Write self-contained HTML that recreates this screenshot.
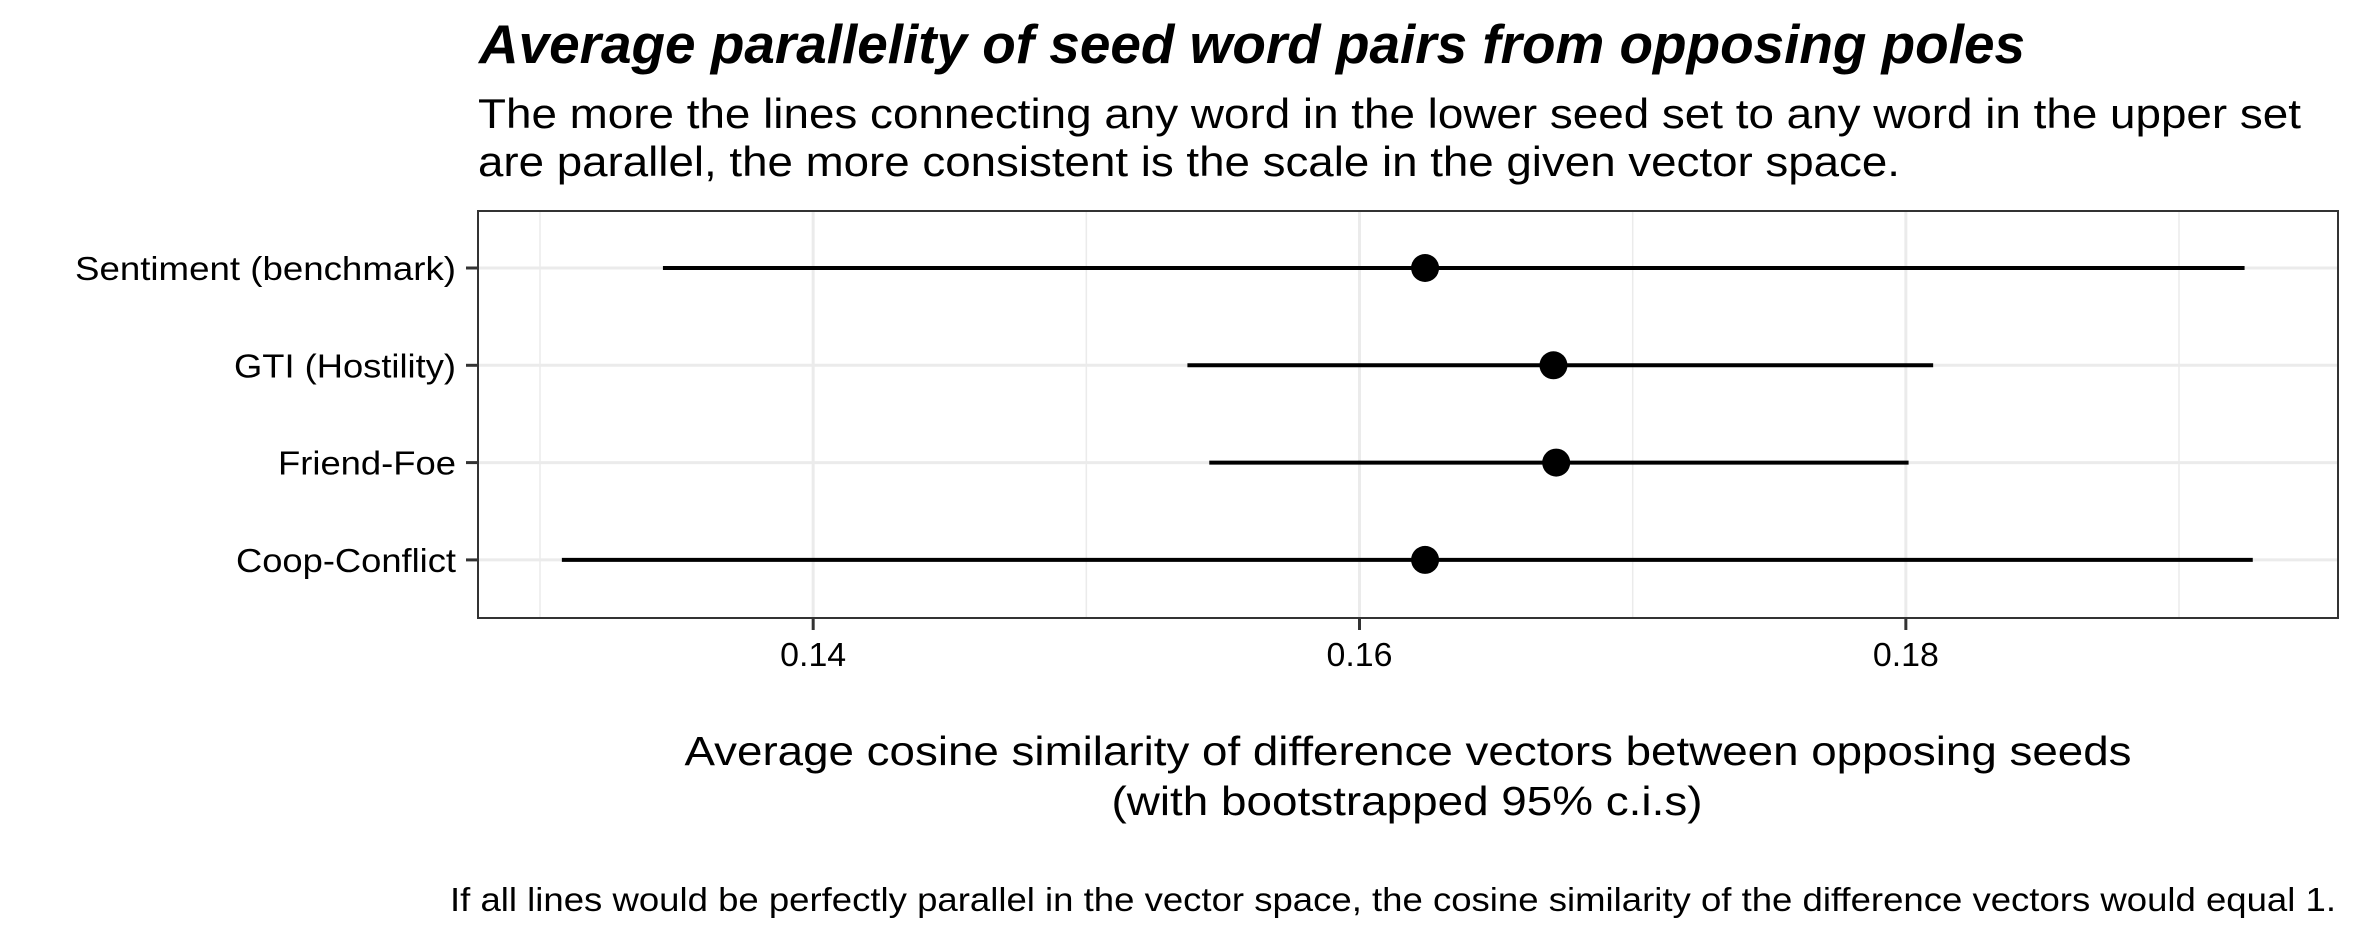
<!DOCTYPE html>
<html><head><meta charset="utf-8"><style>
html,body{margin:0;padding:0;background:#fff;}
svg{display:block;font-family:"Liberation Sans",Arial,sans-serif;}
</style></head><body>
<svg id="chart" width="2362" height="944" viewBox="0 0 2362 944" xmlns="http://www.w3.org/2000/svg">
<text x="479" y="63" font-size="55" font-weight="bold" font-style="italic" textLength="1546" lengthAdjust="spacingAndGlyphs">Average parallelity of seed word pairs from opposing poles</text>
<text x="478" y="128" font-size="42" textLength="1823" lengthAdjust="spacingAndGlyphs">The more the lines connecting any word in the lower seed set to any word in the upper set</text>
<text x="478" y="176" font-size="42" textLength="1422" lengthAdjust="spacingAndGlyphs">are parallel, the more consistent is the scale in the given vector space.</text>
<g id="plot"></g>
<text x="1408" y="765" font-size="41" text-anchor="middle" textLength="1447" lengthAdjust="spacingAndGlyphs">Average cosine similarity of difference vectors between opposing seeds</text>
<text x="1407" y="815" font-size="41" text-anchor="middle" textLength="591" lengthAdjust="spacingAndGlyphs">(with bootstrapped 95% c.i.s)</text>
<text x="2336" y="911" font-size="33" text-anchor="end" textLength="1886" lengthAdjust="spacingAndGlyphs">If all lines would be perfectly parallel in the vector space, the cosine similarity of the difference vectors would equal 1.</text>
</svg>
<script>
const categories = ["Sentiment (benchmark)", "GTI (Hostility)", "Friend-Foe", "Coop-Conflict"];
const estimates = [0.1624, 0.1671, 0.1672, 0.1624];
const lowerCI = [0.1345, 0.1537, 0.1545, 0.1308];
const upperCI = [0.1924, 0.1810, 0.1801, 0.1927];
const majorTicks = [0.14, 0.16, 0.18];
const tickLabels = ["0.14", "0.16", "0.18"];
const minorTicks = [0.13, 0.15, 0.17, 0.19];

const NS = "http://www.w3.org/2000/svg";
const P = {l:478, r:2338, t:211, b:618};
const xMin = 0.12773, xMax = 0.19582;
const labelWidths = {"Sentiment (benchmark)":381, "GTI (Hostility)":222, "Friend-Foe":178, "Coop-Conflict":220};
function xs(v){ return P.l + (v - xMin) / (xMax - xMin) * (P.r - P.l); }
function ys(i){ return 268 + i * 97.3; }
const g = document.getElementById('plot');
function mk(tag, attrs){ const e = document.createElementNS(NS, tag); for (const k in attrs) e.setAttribute(k, attrs[k]); g.appendChild(e); return e; }

const bg = mk('rect', {x:P.l, y:P.t, width:P.r-P.l, height:P.b-P.t, fill:'#fff'});



minorTicks.forEach(v => {
  const l = mk('line', {x1:xs(v), x2:xs(v), y1:P.t, y2:P.b, stroke:'#ebebeb', 'stroke-width':1.5});
  
  
});
majorTicks.forEach((v, i) => {
  const l = mk('line', {x1:xs(v), x2:xs(v), y1:P.t, y2:P.b, stroke:'#ebebeb', 'stroke-width':3});
  
  
  const t = mk('line', {x1:xs(v), x2:xs(v), y1:P.b, y2:P.b+12, stroke:'#333', 'stroke-width':3});
  
  
  const lab = mk('text', {x:xs(v), y:666, 'font-size':33, 'text-anchor':'middle', fill:'#000', textLength:66, lengthAdjust:'spacingAndGlyphs'});
  lab.textContent = tickLabels[i];
  
  
});
categories.forEach((c, i) => {
  const y = ys(i);
  const gl = mk('line', {x1:P.l, x2:P.r, y1:y, y2:y, stroke:'#ebebeb', 'stroke-width':3});
  
  
  const t = mk('line', {x1:P.l-12, x2:P.l, y1:y, y2:y, stroke:'#333', 'stroke-width':3});
  
  
  const attrs = {x:456, y:y+12, 'font-size':33, 'text-anchor':'end', fill:'#000', lengthAdjust:'spacingAndGlyphs'};
  if (labelWidths[c]) attrs.textLength = labelWidths[c];
  const lab = mk('text', attrs);
  lab.textContent = c;
  
  
});
categories.forEach((c, i) => {
  const y = ys(i);
  const seg = mk('line', {x1:xs(lowerCI[i]), x2:xs(upperCI[i]), y1:y, y2:y, stroke:'#000', 'stroke-width':4});
  
  
  const pt = mk('circle', {cx:xs(estimates[i]), cy:y, r:14, fill:'#000'});
  
  
});
const border = mk('rect', {x:P.l, y:P.t, width:P.r-P.l, height:P.b-P.t, fill:'none', stroke:'#333', 'stroke-width':2});


</script>
</body></html>
